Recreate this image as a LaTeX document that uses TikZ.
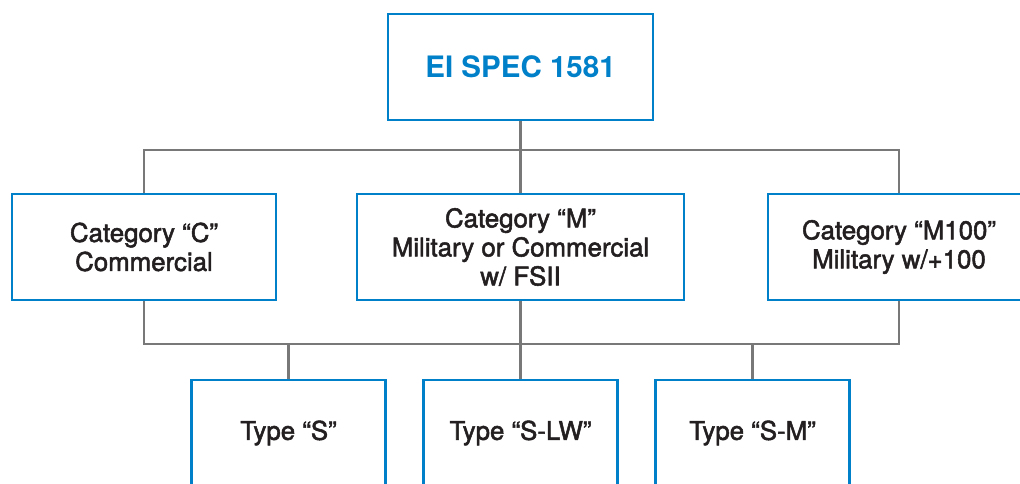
\documentclass[tikz,border=0pt]{standalone}
\usepackage{fontspec}
\setmainfont{TeX Gyre Heros}
\newfontfamily\medfont{TeX Gyre Heros}[RawFeature={embolden=2}]
\usepackage{xcolor}
\usetikzlibrary{positioning,calc}
\definecolor{specblue}{RGB}{0,128,200}
\definecolor{linkgray}{RGB}{120,120,120}
\definecolor{inktext}{RGB}{35,31,32}

\begin{document}
\begin{tikzpicture}[x=0.02cm, y=-0.02cm,
    box/.style={draw=specblue, line width=1.3pt, fill=white, inner sep=0pt,
                align=center, minimum height=2.12cm, text=inktext,
                font=\medfont\fontsize{14.7}{16.5}\selectfont},
    link/.style={draw=linkgray, line width=1.3pt}]
    \clip (0,0) rectangle (1020,483);
    % spec
    \node[box, minimum width=5.3cm, text=specblue,
          font=\fontsize{16.8}{19}\selectfont\bfseries] (spec) at (520.5,67) {EI SPEC 1581};
    % categories
    \node[box, minimum width=5.28cm] (catC) at (144,247) {Category “C”\\Commercial};
    \node[box, minimum width=6.54cm] (catM) at (520.5,247) {Category “M”\\Military or Commercial\\w/ FSII};
    \node[box, minimum width=5.24cm] (catMH) at (899,247) {Category “M100”\\Military w/+100};
    % types
    \node[box, minimum width=3.88cm] (typeS) at (288.5,433) {Type “S”};
    \node[box, minimum width=3.88cm] (typeSLW) at (520.5,433) {Type “S-LW”};
    \node[box, minimum width=3.88cm] (typeSM) at (752.5,433) {Type “S-M”};
    % connectors
    \coordinate (busA) at (520.5,150);
    \coordinate (busB) at (520.5,344);
    \draw[link] (spec.south) -- (busA) -- (catM.north);
    \draw[link] (catC.north) |- (busA) -| (catMH.north);
    \draw[link] (catC.south) |- (busB) -| (catMH.south);
    \draw[link] (catM.south) -- (busB) -- (typeSLW.north);
    \draw[link] (typeS.north) -- (typeS.north |- busB);
    \draw[link] (typeSM.north) -- (typeSM.north |- busB);
\end{tikzpicture}
\end{document}
